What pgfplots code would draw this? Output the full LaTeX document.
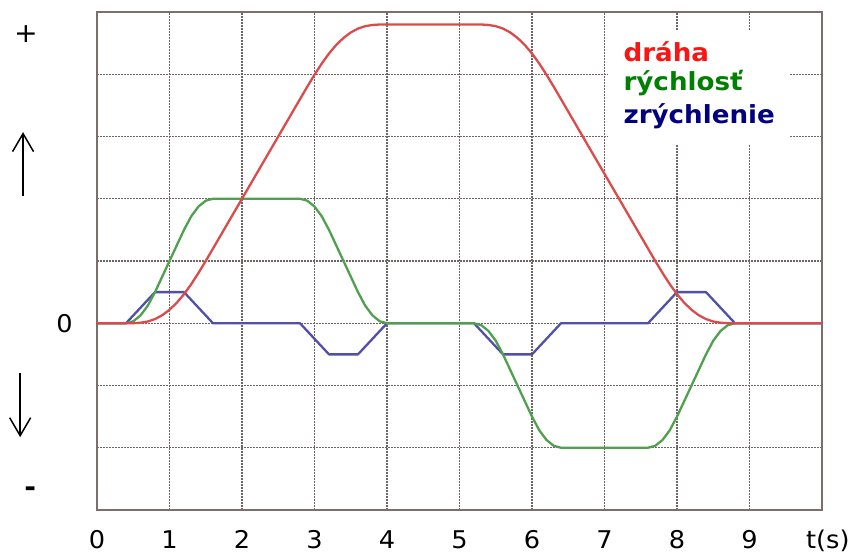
\documentclass[border=0pt]{standalone}
\usepackage{fontspec}
\setmainfont{DejaVu Sans}[FakeStretch=1.05]
\usepackage{pgfplots}
\pgfplotsset{compat=1.18}
\usetikzlibrary{arrows.meta}

\definecolor{cred}{RGB}{220,75,75}
\definecolor{cgreen}{RGB}{80,160,80}
\definecolor{cblue}{RGB}{80,80,170}
\definecolor{frame}{RGB}{125,110,110}
\definecolor{gridc}{RGB}{110,100,100}

\begin{document}
\begin{tikzpicture}
\begin{axis}[
    scale only axis,
    width=725bp, height=498bp,
    xmin=0, xmax=10, ymin=-3, ymax=5,
    xtick={0,...,9}, xticklabels={0,1,2,3,4,5,6,7,8,9},
    ytick={-2,...,4}, yticklabels={,,0,,,,},
    grid=major,
    major grid style={gridc, dash pattern=on 2bp off 1bp, line width=1.1bp},
    major tick length=0pt,
    axis line style={frame, line width=1.8bp},
    tick label style={font=\fontsize{24.5}{28}\selectfont, inner sep=0pt},
    xticklabel style={anchor=base, yshift=-38.5bp},
    yticklabel style={anchor=east, xshift=-24bp},
    clip=false,
]
% zrychlenie
\addplot[cblue, line width=2.3bp, line join=round] coordinates {
  (0,0)(0.4,0)(0.8,0.5)(1.2,0.5)(1.6,0)(2.8,0)(3.2,-0.5)(3.6,-0.5)(4.0,0)
  (5.2,0)(5.6,-0.5)(6.0,-0.5)(6.4,0)(7.6,0)(8.0,0.5)(8.4,0.5)(8.8,0)(10,0)
};
% rychlost
\addplot[cgreen, line width=2.3bp, line join=round] coordinates {
  (0,0)(0.4,0)(0.5,0.03125)(0.6,0.125)(0.7,0.28125)(0.8,0.5)(1.2,1.5)
  (1.3,1.71875)(1.4,1.875)(1.5,1.96875)(1.6,2)(2.8,2)(2.9,1.96875)(3.0,1.875)
  (3.1,1.71875)(3.2,1.5)(3.6,0.5)(3.7,0.28125)(3.8,0.125)(3.9,0.03125)(4.0,0)
  (5.2,0)(5.3,-0.03125)(5.4,-0.125)(5.5,-0.28125)(5.6,-0.5)(6.0,-1.5)
  (6.1,-1.71875)(6.2,-1.875)(6.3,-1.96875)(6.4,-2)(7.6,-2)(7.7,-1.96875)
  (7.8,-1.875)(7.9,-1.71875)(8.0,-1.5)(8.4,-0.5)(8.5,-0.28125)(8.6,-0.125)
  (8.7,-0.03125)(8.8,0)(10,0)
};
% draha
\addplot[cred, line width=2.3bp, line join=round] coordinates {
  (0,0)(0.4,0)(0.5,0.001)(0.6,0.0083)(0.7,0.0281)(0.8,0.0667)(0.9,0.1292)
  (1.0,0.2167)(1.1,0.3292)(1.2,0.4667)(1.3,0.6281)(1.4,0.8083)(1.5,1.001)
  (1.6,1.2)(2.8,3.6)(2.9,3.799)(3.0,3.9917)(3.1,4.1719)(3.2,4.3333)
  (3.3,4.4708)(3.4,4.5833)(3.5,4.6708)(3.6,4.7333)(3.7,4.7719)(3.8,4.7917)
  (3.9,4.799)(4.0,4.8)(5.2,4.8)(5.3,4.799)(5.4,4.7917)(5.5,4.7719)
  (5.6,4.7333)(5.7,4.6708)(5.8,4.5833)(5.9,4.4708)(6.0,4.3333)(6.1,4.1719)
  (6.2,3.9917)(6.3,3.799)(6.4,3.6)(7.6,1.2)(7.7,1.001)(7.8,0.8083)
  (7.9,0.6281)(8.0,0.4667)(8.1,0.3292)(8.2,0.2167)(8.3,0.1292)(8.4,0.0667)
  (8.5,0.0281)(8.6,0.0083)(8.7,0.001)(8.8,0)(10,0)
};
% legenda
\fill[white] (axis cs:7.05,2.87) rectangle (axis cs:9.54,4.69);
\begin{scope}[font=\fontsize{25}{29}\selectfont\bfseries, inner sep=0pt]
\node[anchor=base west, text={rgb,255:red,250;green,20;blue,20}] at (axis cs:7.26,4.205) {dráha};
\node[anchor=base west, text={rgb,255:red,0;green,128;blue,0}] at (axis cs:7.26,3.74) {rýchlosť};
\node[anchor=base west, text={rgb,255:red,0;green,0;blue,128}] at (axis cs:7.26,3.21) {zrýchlenie};
\end{scope}
% t(s)
\node[anchor=base, inner sep=0pt, font=\fontsize{24.5}{28}\selectfont] at (axis cs:10.08,-3) [yshift=-38.5bp] {t(s)};
% znamienka a sipky
\node[font=\fontsize{27}{31}\selectfont, inner sep=0pt] at (axis cs:-0.98,4.64) {+};
\node[font=\fontsize{27}{31}\selectfont\bfseries, inner sep=0pt] at (axis cs:-0.92,-2.71) {-};
\draw[-{Straight Barb[length=18bp,width=21bp]}, line width=1.5bp] (axis cs:-1.02,2.05) -- (axis cs:-1.02,3.07);
\draw[-{Straight Barb[length=18bp,width=21bp]}, line width=1.5bp] (axis cs:-1.06,-0.8) -- (axis cs:-1.06,-1.83);
\end{axis}
\pgfresetboundingbox
\path[use as bounding box] (-97bp,-44bp) rectangle (752bp,510bp);
\end{tikzpicture}
\end{document}
